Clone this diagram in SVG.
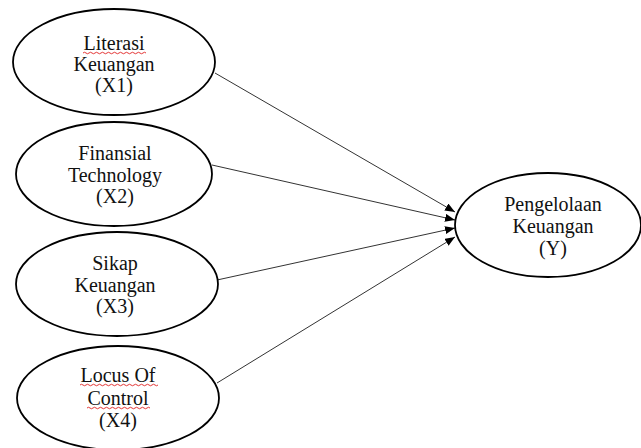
<svg xmlns="http://www.w3.org/2000/svg" width="641" height="448" viewBox="0 0 641 448">
<style>
.node ellipse{fill:#fff;stroke:#000;stroke-width:1.8}
.node text{font-family:"Liberation Serif","Times New Roman",serif;font-size:20px;fill:#111;text-anchor:middle}
.edges line{stroke:#333;stroke-width:1}
.spell{fill:none;stroke:#e02020;stroke-width:0.9}
</style>
<defs>
<marker id="arr" viewBox="0 0 10 8" refX="10" refY="4" markerWidth="10" markerHeight="8" markerUnits="userSpaceOnUse" orient="auto">
<path d="M0,0 L10,4 L0,8 z" fill="#000"/>
</marker>
</defs>
<rect width="641" height="448" fill="#fff"/>
<g class="edges">
<line x1="215" y1="73" x2="455" y2="212" marker-end="url(#arr)"/>
<line x1="212" y1="165" x2="455" y2="220" marker-end="url(#arr)"/>
<line x1="217" y1="280" x2="455" y2="228" marker-end="url(#arr)"/>
<line x1="217" y1="383" x2="455" y2="237" marker-end="url(#arr)"/>
</g>
<g id="x1" class="node">
<ellipse cx="114" cy="62" rx="101" ry="53"/>
<text x="114" y="50">Literasi</text>
<text x="114" y="71">Keuangan</text>
<text x="114" y="92">(X1)</text>
<path class="spell" d="M83,53 q1.5,-1.5 3,0 t3,0 t3,0 t3,0 t3,0 t3,0 t3,0 t3,0 t3,0 t3,0 t3,0 t3,0 t3,0 t3,0 t3,0 t3,0 t3,0 t3,0 t3,0 t3,0 t3,0"/>
</g>
<g id="x2" class="node">
<ellipse cx="114" cy="174" rx="98" ry="52"/>
<text x="115" y="160">Finansial</text>
<text x="115" y="182">Technology</text>
<text x="115" y="203">(X2)</text>
</g>
<g id="x3" class="node">
<ellipse cx="117" cy="284" rx="101" ry="52"/>
<text x="115" y="270">Sikap</text>
<text x="115" y="292">Keuangan</text>
<text x="115" y="313">(X3)</text>
</g>
<g id="x4" class="node">
<ellipse cx="118" cy="398" rx="101" ry="52"/>
<text x="118" y="382">Locus Of</text>
<text x="118" y="405">Control</text>
<text x="118" y="427">(X4)</text>
<path class="spell" d="M80,385 q1.5,-1.5 3,0 t3,0 t3,0 t3,0 t3,0 t3,0 t3,0 t3,0 t3,0 t3,0 t3,0 t3,0 t3,0 t3,0 t3,0 t3,0 t3,0 t3,0 t3,0 t3,0 t3,0 t3,0 t3,0 t3,0 t3,0 t3,0"/>
<path class="spell" d="M87,408 q1.5,-1.5 3,0 t3,0 t3,0 t3,0 t3,0 t3,0 t3,0 t3,0 t3,0 t3,0 t3,0 t3,0 t3,0 t3,0 t3,0 t3,0 t3,0 t3,0 t3,0 t3,0 t3,0"/>
</g>
<g id="y" class="node">
<ellipse cx="548" cy="225" rx="93" ry="52"/>
<text x="553" y="211">Pengelolaan</text>
<text x="553" y="233">Keuangan</text>
<text x="553" y="255">(Y)</text>
</g>
</svg>
